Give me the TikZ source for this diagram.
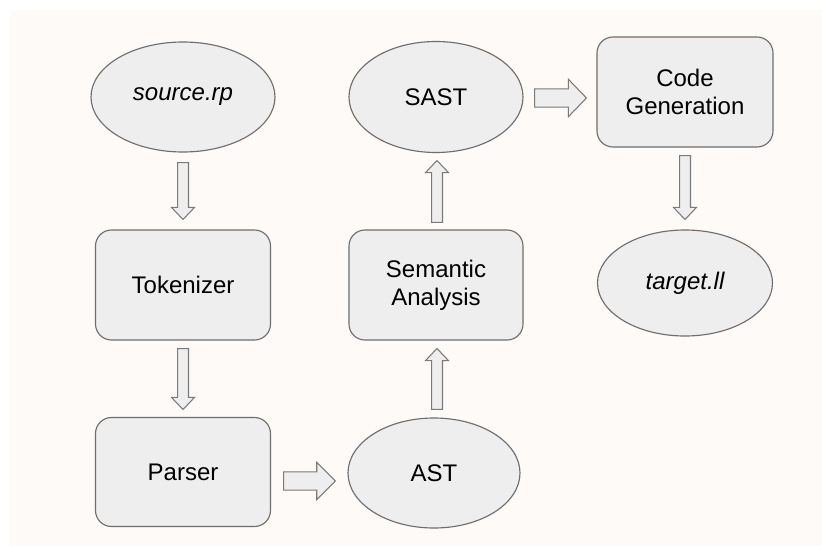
\documentclass[tikz,border=0pt]{standalone}
\usepackage{fontspec}
\setmainfont{Liberation Sans}
\usetikzlibrary{shapes.geometric,calc}
\definecolor{bgc}{HTML}{FDFAF7}
\definecolor{fillc}{HTML}{EEEEEE}
\definecolor{linec}{HTML}{6E6E6E}
\definecolor{arrc}{HTML}{7A7A7A}
\tikzset{
  base/.style={draw=linec, line width=0.85pt, fill=fillc, inner sep=0pt,
    font=\fontsize{18}{21}\selectfont, align=center},
  ell/.style={base, ellipse},
  box/.style={base, rectangle, rounded corners=12pt},
  barrow/.style={draw=arrc, line width=0.8pt, fill=fillc, line join=miter},
}
% #1 start, #2 end, #3 half shaft, #4 half head, #5 head length
\newcommand\blockarrow[5]{%
  \draw[barrow] let \p1=#1, \p2=#2, \p3=($(\p2)!#5!(\p1)$) in
    ($(\p1)!#3!90:(\p2)$) -- ($(\p3)!#3!90:(\p2)$) -- ($(\p3)!#4!90:(\p2)$)
    -- (\p2) -- ($(\p3)!#4!-90:(\p2)$) -- ($(\p3)!#3!-90:(\p2)$)
    -- ($(\p1)!#3!-90:(\p2)$) -- cycle;}
\begin{document}
\begin{tikzpicture}[x=0.75pt,y=-0.75pt]
\useasboundingbox (0,0) rectangle (822,546);
\fill[bgc] (10,10) rectangle (822,546);

\node[ell, minimum width=184*0.75pt, minimum height=110*0.75pt] (src) at (183,97) {\itshape source.rp};
\node[box, minimum width=175*0.75pt, minimum height=110*0.75pt] (tok) at (183,285) {Tokenizer};
\node[box, minimum width=175*0.75pt, minimum height=109*0.75pt] (par) at (183,472) {Parser};
\node[ell, minimum width=172*0.75pt, minimum height=110*0.75pt] (ast) at (434,473) {AST};
\node[box, minimum width=174*0.75pt, minimum height=110*0.75pt] (sem) at (436,285) {Semantic\\Analysis};
\node[ell, minimum width=174*0.75pt, minimum height=111*0.75pt] (sast) at (436,97) {SAST};
\node[box, minimum width=176*0.75pt, minimum height=110*0.75pt] (code) at (685,92) {Code\\Generation};
\node[ell, minimum width=175*0.75pt, minimum height=106*0.75pt] (tgt) at (685,283) {\itshape target.ll};

\blockarrow{($(src.south)+(0,10)$)}{($(tok.north)+(0,-10)$)}{4.1pt}{8.6pt}{9pt}
\blockarrow{($(tok.south)+(0,8)$)}{($(par.north)+(0,-7.5)$)}{4.1pt}{8.6pt}{9pt}
\blockarrow{($(ast.north)+(3,-8)$)}{($(sem.south)+(1,8)$)}{4.1pt}{8.6pt}{9pt}
\blockarrow{($(sem.north)+(1,-7)$)}{($(sast.south)+(1,7.5)$)}{4.1pt}{8.6pt}{9pt}
\blockarrow{($(code.south)+(0,8)$)}{($(tgt.north)+(0,-10)$)}{4.1pt}{8.6pt}{9pt}
\blockarrow{($(par.east)+(12.5,9)$)}{($(ast.west)+(-12,8)$)}{6.9pt}{13.9pt}{14pt}
\blockarrow{($(sast.east)+(11,1)$)}{($(code.west)+(-10,6)$)}{6.8pt}{14pt}{13.5pt}
\end{tikzpicture}
\end{document}
